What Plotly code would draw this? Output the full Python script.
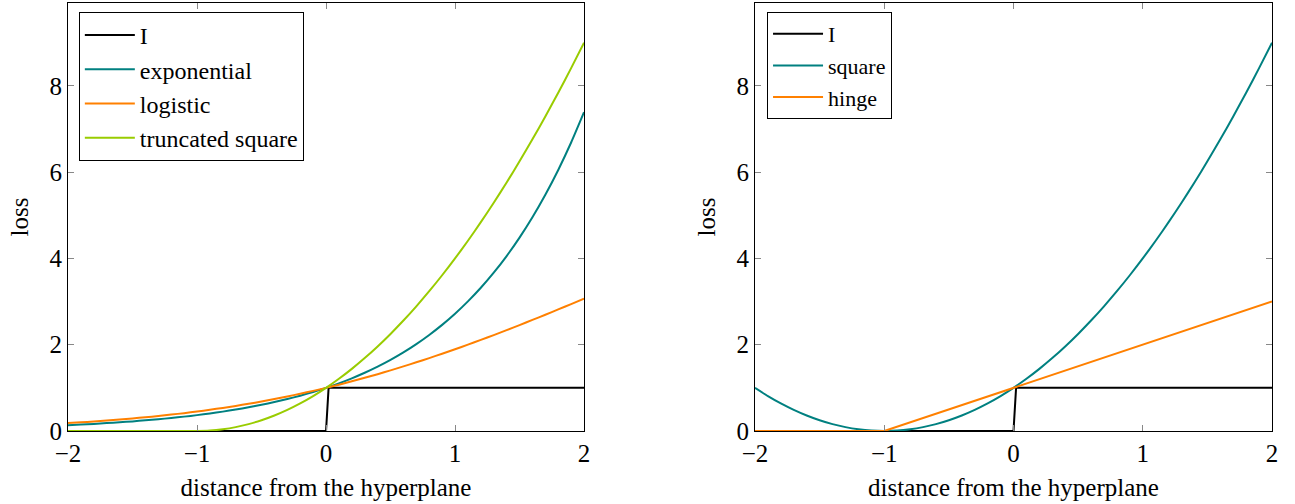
import plotly.graph_objects as go

# sample positions (distance from the hyperplane)
x_vals = [-2.0, -1.9, -1.8, -1.7, -1.6, -1.5, -1.4, -1.3, -1.2, -1.1, -1.0,
          -0.9, -0.8, -0.7, -0.6, -0.5, -0.4, -0.3, -0.2, -0.1, 0.0,
          0.1, 0.2, 0.3, 0.4, 0.5, 0.6, 0.7, 0.8, 0.9, 1.0,
          1.1, 1.2, 1.3, 1.4, 1.5, 1.6, 1.7, 1.8, 1.9, 2.0]

exponential = [0.135, 0.150, 0.165, 0.183, 0.202, 0.223, 0.247, 0.273, 0.301, 0.333, 0.368,
               0.407, 0.449, 0.497, 0.549, 0.607, 0.670, 0.741, 0.819, 0.905, 1.000,
               1.105, 1.221, 1.350, 1.492, 1.649, 1.822, 2.014, 2.226, 2.460, 2.718,
               3.004, 3.320, 3.669, 4.055, 4.482, 4.953, 5.474, 6.050, 6.686, 7.389]

logistic = [0.183, 0.201, 0.221, 0.242, 0.265, 0.291, 0.318, 0.348, 0.380, 0.414, 0.452,
            0.492, 0.535, 0.582, 0.631, 0.684, 0.740, 0.800, 0.863, 0.930, 1.000,
            1.074, 1.151, 1.233, 1.317, 1.405, 1.497, 1.592, 1.690, 1.791, 1.895,
            2.001, 2.111, 2.223, 2.338, 2.455, 2.574, 2.695, 2.818, 2.942, 3.069]

truncated_square = [0, 0, 0, 0, 0, 0, 0, 0, 0, 0, 0,
                    0.01, 0.04, 0.09, 0.16, 0.25, 0.36, 0.49, 0.64, 0.81, 1.00,
                    1.21, 1.44, 1.69, 1.96, 2.25, 2.56, 2.89, 3.24, 3.61, 4.00,
                    4.41, 4.84, 5.29, 5.76, 6.25, 6.76, 7.29, 7.84, 8.41, 9.00]

square = [1.00, 0.81, 0.64, 0.49, 0.36, 0.25, 0.16, 0.09, 0.04, 0.01, 0.00,
          0.01, 0.04, 0.09, 0.16, 0.25, 0.36, 0.49, 0.64, 0.81, 1.00,
          1.21, 1.44, 1.69, 1.96, 2.25, 2.56, 2.89, 3.24, 3.61, 4.00,
          4.41, 4.84, 5.29, 5.76, 6.25, 6.76, 7.29, 7.84, 8.41, 9.00]

hinge_x = [-2.0, -1.0, 2.0]
hinge_y = [0.0, 0.0, 3.0]

step_x = [-2.0, 0.0, 0.02, 2.0]
step_y = [0.0, 0.0, 1.0, 1.0]

x_ticks = [-2, -1, 0, 1, 2]
y_ticks = [0, 2, 4, 6, 8]

BLACK = "#000000"
TEAL = "#008080"
ORANGE = "#ff8000"
LIME = "#99cc00"
FONT = "'Liberation Serif', 'DejaVu Serif', 'Noto Serif', serif"
FS = 25

fig = go.Figure()

def add(x, y, name, color, xa, ya, legend, grp, smooth=True):
    line = dict(color=color, width=2)
    if smooth:
        line.update(shape="spline", smoothing=0.6)
    fig.add_trace(go.Scatter(x=x, y=y, mode="lines", name=name, line=line,
                             xaxis=xa, yaxis=ya, legend=legend, legendgroup=grp))

add(step_x, step_y, "I", BLACK, "x", "y", "legend", "a1", smooth=False)
add(x_vals, exponential, "exponential", TEAL, "x", "y", "legend", "a2")
add(x_vals, logistic, "logistic", ORANGE, "x", "y", "legend", "a3")
add(x_vals, truncated_square, "truncated square", LIME, "x", "y", "legend", "a4")

add(step_x, step_y, "I", BLACK, "x2", "y2", "legend2", "b1", smooth=False)
add(x_vals, square, "square", TEAL, "x2", "y2", "legend2", "b2")
add(hinge_x, hinge_y, "hinge", ORANGE, "x2", "y2", "legend2", "b3", smooth=False)

axis_common = dict(showline=True, linecolor="black", linewidth=1, mirror="ticks",
                   ticks="inside", ticklen=6, tickcolor="#888888", tickwidth=1,
                   showgrid=False, zeroline=False,
                   tickfont=dict(family=FONT, size=FS, color="black"))

xt = dict(tickmode="array", tickvals=x_ticks, range=[-2, 2],
          title=dict(text="distance from the hyperplane", font=dict(family=FONT, size=FS), standoff=12))
yt = dict(tickmode="array", tickvals=y_ticks, range=[0, 9.92],
          title=dict(text="loss", font=dict(family=FONT, size=FS), standoff=13))

legend_common = dict(bgcolor="white", bordercolor="black", borderwidth=1,
                     xanchor="left", yanchor="top", itemwidth=50, tracegroupgap=0)

fig.update_layout(
    width=1295, height=504,
    margin=dict(l=68, r=23, t=3, b=73, autoexpand=False),
    paper_bgcolor="white", plot_bgcolor="white",
    font=dict(family=FONT, size=FS, color="black"),
    xaxis=dict(domain=[0, 0.4286], anchor="y", **axis_common, **xt),
    yaxis=dict(domain=[0, 1], anchor="x", **axis_common, **yt),
    xaxis2=dict(domain=[0.5706, 1.0], anchor="y2", **axis_common, **xt),
    yaxis2=dict(domain=[0, 1], anchor="x2", **axis_common, **yt),
    legend=dict(x=0.009, y=0.979,
                font=dict(family=FONT, size=24, color="black"), **legend_common),
    legend2=dict(x=0.5806, y=0.979,
                 font=dict(family=FONT, size=22, color="black"), **legend_common),
    showlegend=True,
)

fig.write_html("out.html", post_script="document.body.style.margin='0';",
               config={"displayModeBar": False})
